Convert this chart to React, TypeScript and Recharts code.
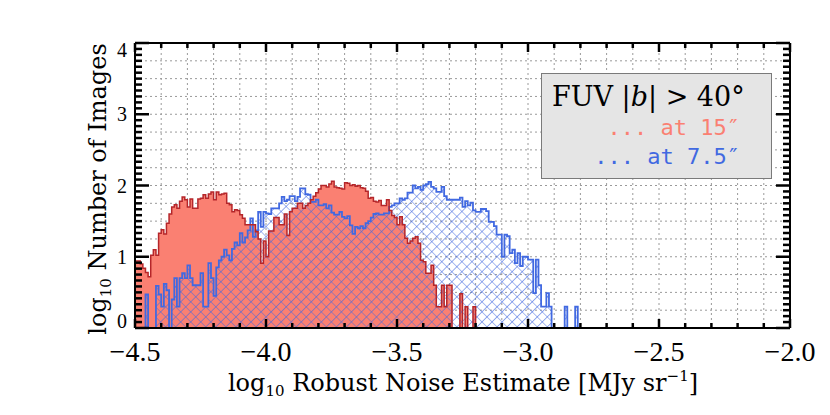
import React from 'react';
import { ComposedChart, Area, XAxis, YAxis, CartesianGrid } from 'recharts';

// log10 counts per 0.01-dex bin, starting at -4.50
const red15 = [
  0.94, 0.94, 0.90, 0.84, 0.78, 0.72, 1.02, 1.10, 1.02, 1.33,
  1.38, 1.32, 1.47, 1.60, 1.70, 1.73, 1.68, 1.78, 1.84, 1.80,
  1.70, 1.81, 1.68, 1.68, 1.81, 1.82, 1.87, 1.82, 1.88, 1.91,
  1.80, 1.91, 1.87, 1.88, 1.89, 1.75, 1.73, 1.63, 1.66, 1.65,
  1.59, 1.54, 1.45, 1.45, 1.45, 1.45, 1.35, 1.25, 0.91, 1.22,
  1.00, 1.36, 1.36, 1.55, 1.55, 1.45, 1.45, 1.60, 1.30, 1.63,
  1.68, 1.68, 1.75, 1.75, 1.68, 1.72, 1.75, 1.80, 1.85, 1.90,
  1.95, 2.00, 2.00, 1.98, 2.02, 2.06, 1.98, 1.97, 1.96, 1.95,
  2.04, 2.03, 2.00, 2.01, 1.99, 2.00, 1.97, 1.96, 1.92, 1.82,
  1.83, 1.78, 1.77, 1.79, 1.72, 1.72, 1.80, 1.65, 1.58, 1.55,
  1.45, 1.56, 1.45, 1.26, 1.19, 1.22, 1.26, 1.28, 1.19, 0.95,
  0.93, 0.77, 0.77, 0.88, 0.60, 0.30, 0.30, 0.60, 0.30, 0.60,
  0.60, 0, 0, 0, 0.48, 0, 0.30, 0, 0, 0.30,
];

const blue75 = [
  0, 0, 0, 0, 0.47, 0, 0, 0, 0.59, 0.47,
  0.30, 0.62, 0.53, 0, 0.40, 0.70, 0.30, 0.70, 0.77, 0.70,
  0.88, 0.70, 0.60, 0.60, 0.60, 0.77, 0.30, 0.30, 0.91, 0.70,
  0.45, 0.85, 0.95, 1.00, 1.10, 1.02, 0.95, 1.11, 1.20, 1.16,
  1.33, 1.20, 1.27, 1.37, 1.54, 1.28, 1.37, 1.63, 1.42, 1.63,
  1.61, 1.60, 1.68, 1.68, 1.68, 1.75, 1.84, 1.78, 1.80, 1.85,
  1.85, 1.78, 1.84, 1.96, 1.96, 1.88, 1.87, 1.77, 1.77, 1.80,
  1.72, 1.72, 1.74, 1.68, 1.72, 1.62, 1.59, 1.59, 1.63, 1.56,
  1.54, 1.57, 1.44, 1.32, 1.42, 1.40, 1.43, 1.40, 1.47, 1.50,
  1.55, 1.60, 1.61, 1.59, 1.59, 1.61, 1.61, 1.70, 1.72, 1.75,
  1.75, 1.82, 1.80, 1.82, 1.90, 1.90, 2.00, 1.96, 1.98, 1.94,
  2.00, 2.02, 2.05, 1.98, 1.96, 1.91, 1.91, 1.98, 1.85, 1.80,
  1.80, 1.80, 1.80, 1.80, 1.83, 1.70, 1.78, 1.72, 1.76, 1.65,
  1.63, 1.63, 1.67, 1.67, 1.64, 1.49, 1.49, 1.43, 1.31, 1.31,
  1.00, 1.31, 1.29, 1.05, 1.10, 0.91, 1.05, 0.87, 1.00, 1.00,
  0.96, 0.96, 0.49, 0.96, 0.60, 0.30, 0.30, 0.49, 0.30, 0,
  0, 0, 0, 0, 0.30, 0, 0, 0, 0.30,
];

const X_MIN = -4.5;
const X_MAX = -2.0;
const BIN = 0.01;
const RED_END = 159; // red outline runs along zero up to here

const xTicks = Array.from({ length: 26 }, (_, k) => Number((X_MIN + 0.1 * k).toFixed(1)));
const yTicks = Array.from({ length: 49 }, (_, k) => Number((k / 12).toFixed(4)));
const yGrid = Array.from({ length: 17 }, (_, k) => k * 0.25);
const yLabels = [0, 1, 2, 3, 4];

const nBins = Math.round((X_MAX - X_MIN) / BIN);
const data = Array.from({ length: nBins + 1 }, (_, i) => ({
  x: Number((X_MIN + i * BIN).toFixed(2)),
  red: i <= RED_END ? (red15[i] ?? 0) : null,
  blue: blue75[i] ?? 0,
}));

const TICK_FONT = '"Liberation Serif", serif';
const TITLE_FONT = '"DejaVu Serif", serif';
const RED = '#fa8072';
const RED_EDGE = '#b5262a';
const BLUE = '#4169e1';

const isMajorX = (v: number) => Math.abs(v * 2 - Math.round(v * 2)) < 1e-6;
const isMajorY = (v: number) => Math.abs(v - Math.round(v)) < 1e-3;
const fmt = (v: number) => v.toFixed(1).replace('-', '\u2212');

const BottomTick = ({ x, y, payload }: any) => {
  const major = isMajorX(payload.value);
  return (
    <g>
      <path d={`M${x},${y}V${y - (major ? 9 : 5)}`} stroke="#000" strokeWidth={2.5} fill="none" />
      {major && (
        <text x={x} y={y + 33} textAnchor="middle" fontSize={28} fontFamily={TICK_FONT} fill="#000">
          {fmt(payload.value)}
        </text>
      )}
    </g>
  );
};

const TopTick = ({ x, y, payload }: any) => {
  const major = isMajorX(payload.value);
  return <path d={`M${x},${y}V${y + (major ? 9 : 5)}`} stroke="#000" strokeWidth={2.5} fill="none" />;
};

const LeftTick = ({ x, y, payload }: any) => {
  const v = payload.value;
  const major = isMajorY(v);
  const showLabel = major && yLabels.includes(Math.round(v));
  let ty = y + 7;
  if (Math.round(v) === 0) ty = y;
  if (Math.round(v) === 4) ty = y + 14;
  return (
    <g>
      <path d={`M${x},${y}H${x + (major ? 14 : 7)}`} stroke="#000" strokeWidth={2.5} fill="none" />
      {showLabel && (
        <text x={x - 8} y={ty} textAnchor="end" fontSize={20} fontFamily={TICK_FONT} fill="#000">
          {Math.round(v)}
        </text>
      )}
    </g>
  );
};

const RightTick = ({ x, y, payload }: any) => {
  const major = isMajorY(payload.value);
  return <path d={`M${x},${y}H${x - (major ? 14 : 7)}`} stroke="#000" strokeWidth={2.5} fill="none" />;
};

const axisLine = { stroke: '#000', strokeWidth: 2 };

export default function App() {
  return (
    <div style={{ position: 'absolute', left: 0, top: 0, width: 830, height: 415, background: '#fff' }}>
      <ComposedChart width={830} height={415} data={data} margin={{ top: 42, right: 39, bottom: 27, left: 85 }}>
        <defs>
          <pattern id="hatch" width="7.1" height="7.1" patternUnits="userSpaceOnUse" patternTransform="rotate(45)">
            <path d="M0,0 H7.1 M0,0 V7.1" stroke={BLUE} strokeWidth={1.1} fill="none" />
          </pattern>
        </defs>
        <CartesianGrid
          xAxisId="b" yAxisId="l" horizontalValues={yGrid} verticalValues={xTicks}
          stroke="#9a9a9a" strokeDasharray="2 3" strokeWidth={1}
        />
        <Area
          xAxisId="b" yAxisId="l" type="stepAfter" dataKey="red" fill={RED} fillOpacity={1}
          stroke="none" isAnimationActive={false} dot={false} activeDot={false}
        />
        <Area
          xAxisId="b" yAxisId="l" type="stepAfter" dataKey="blue" fill="url(#hatch)" fillOpacity={1}
          stroke={BLUE} strokeWidth={1.8} isAnimationActive={false} dot={false} activeDot={false}
        />
        <Area
          xAxisId="b" yAxisId="l" type="stepAfter" dataKey="red" fill="none" stroke={RED_EDGE}
          strokeWidth={1.5} isAnimationActive={false} dot={false} activeDot={false}
        />
        <XAxis
          xAxisId="b" dataKey="x" type="number" domain={[X_MIN, X_MAX]} ticks={xTicks} interval={0}
          allowDataOverflow height={60} tickSize={0} tickMargin={0} tickLine={false} axisLine={axisLine}
          tick={<BottomTick />}
        />
        <XAxis
          xAxisId="t" orientation="top" dataKey="x" type="number" domain={[X_MIN, X_MAX]} ticks={xTicks}
          interval={0} allowDataOverflow height={1} tickSize={0} tickMargin={0} tickLine={false}
          axisLine={axisLine} tick={<TopTick />}
        />
        <YAxis
          yAxisId="l" type="number" domain={[0, 4]} ticks={yTicks} interval={0} allowDataOverflow width={50}
          tickSize={0} tickMargin={0} tickLine={false} axisLine={axisLine} tick={<LeftTick />}
        />
        <YAxis
          yAxisId="r" orientation="right" type="number" domain={[0, 4]} ticks={yTicks} interval={0}
          allowDataOverflow width={1} tickSize={0} tickMargin={0} tickLine={false} axisLine={axisLine}
          tick={<RightTick />}
        />
      </ComposedChart>

      <svg width={830} height={415} style={{ position: 'absolute', left: 0, top: 0, pointerEvents: 'none' }}>
        <text x={463} y={391} textAnchor="middle" fontSize={24} fontFamily={TITLE_FONT} fill="#000">
          log<tspan fontSize={15} dy={5}>10</tspan>
          <tspan dy={-5}> Robust Noise Estimate [MJy sr</tspan>
          <tspan fontSize={15} dy={-10}>−1</tspan>
          <tspan dy={10}>]</tspan>
        </text>
        <text
          x={0} y={0} textAnchor="middle" fontSize={24} fontFamily={TITLE_FONT} fill="#000"
          transform="translate(106,189) rotate(-90)"
        >
          log<tspan fontSize={15} dy={5}>10</tspan>
          <tspan dy={-5}> Number of Images</tspan>
        </text>
      </svg>

      <div
        style={{
          position: 'absolute', left: 541, top: 73, width: 229, height: 104,
          background: '#e5e5e5', border: '1px solid #7a7a7a',
        }}
      >
        <svg width={229} height={104} style={{ position: 'absolute', left: 0, top: 0 }}>
          <text x={10} y={32} fontSize={27} fontFamily={TITLE_FONT} fill="#000">
            FUV |<tspan fontStyle="italic">b</tspan>| &gt; 40°
          </text>
          <text x={198} y={61} textAnchor="end" fontSize={22} fontFamily='"DejaVu Sans Mono", monospace' fill={RED}>
            ... at 15″
          </text>
          <text x={198} y={90} textAnchor="end" fontSize={22} fontFamily='"DejaVu Sans Mono", monospace' fill={BLUE}>
            ... at 7.5″
          </text>
        </svg>
      </div>
    </div>
  );
}
